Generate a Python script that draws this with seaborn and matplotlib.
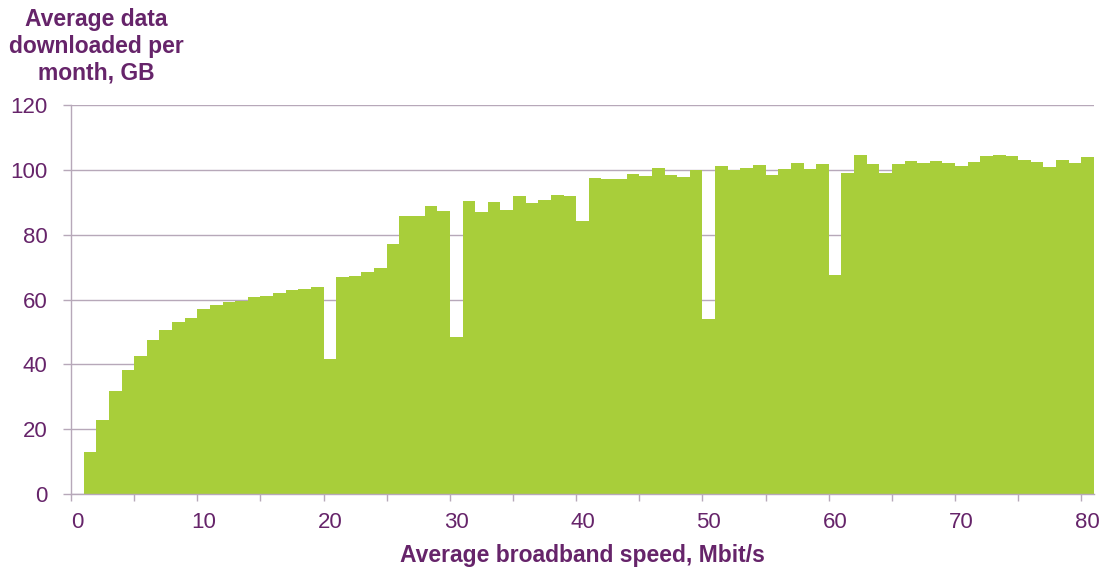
import numpy as np
import pandas as pd
import seaborn as sns
import matplotlib.pyplot as plt

# Average broadband speed (Mbit/s) and average data downloaded per month (GB)
speeds = list(range(1, 81))
downloads = [
    12.9, 22.8, 31.8, 38.3, 42.7, 47.5, 50.5, 53.0, 54.2, 57.2,
    58.3, 59.1, 59.5, 60.7, 61.1, 61.9, 62.9, 63.1, 63.8, 41.6,
    66.8, 67.2, 68.6, 69.8, 77.0, 85.9, 85.8, 88.8, 87.3, 48.3,
    90.3, 87.0, 90.1, 87.6, 91.8, 89.8, 90.6, 92.1, 91.8, 84.2,
    97.5, 97.3, 97.1, 98.7, 98.1, 100.6, 98.3, 97.8, 99.9, 54.0,
    101.1, 99.9, 100.5, 101.4, 98.5, 100.4, 102.0, 100.4, 101.7, 67.6,
    99.1, 104.6, 101.7, 99.1, 101.7, 102.8, 102.0, 102.7, 102.0, 101.2,
    102.5, 104.4, 104.7, 104.2, 103.0, 102.4, 100.8, 102.9, 102.0, 104.0,
]
x_labels = list(range(0, 81, 10))
y_ticks = list(range(0, 121, 20))

df = pd.DataFrame({'speed': speeds, 'gb': downloads})

purple = '#66246A'
green = '#A8CE3A'
grid = '#B7A8B9'

sns.set_theme(style='white')
plt.rcParams['font.family'] = ['Liberation Sans', 'DejaVu Sans']

fig = plt.figure(figsize=(11.03, 5.69), dpi=100)
ax = fig.add_axes([71 / 1103, 1 - 494 / 569, (1094 - 71) / 1103, (494 - 105) / 569])

sns.barplot(data=df, x='speed', y='gb', native_scale=True, width=1,
            color=green, saturation=1, linewidth=0, ax=ax)

ax.set_xlim(-0.5, 80.5)
ax.set_ylim(0, 120)

# labels centred on categories, tick marks between groups of five
ax.set_xticks(x_labels)
ax.set_xticks(np.arange(-0.5, 80, 5), minor=True)
ax.tick_params(axis='x', which='major', length=0, pad=13, labelsize=16, labelcolor=purple)
ax.tick_params(axis='x', which='minor', length=5, width=1, color=grid, direction='out', bottom=True)

ax.set_yticks(y_ticks)
ax.tick_params(axis='y', which='major', length=6, width=1, color=grid, direction='out',
               left=True, pad=11, labelsize=16, labelcolor=purple)

ax.grid(axis='y', color=grid, linewidth=1)
ax.set_axisbelow(True)
for side in ['top', 'right']:
    ax.spines[side].set_visible(False)
for side in ['left', 'bottom']:
    ax.spines[side].set_color(grid)
    ax.spines[side].set_linewidth(1)
    ax.spines[side].set_zorder(3)

ax.set_xlabel('Average broadband speed, Mbit/s', fontsize=16.5, fontweight='bold',
              color=purple, labelpad=8)
ax.set_ylabel('')

fig.text(96 / 1103, 1 - 8 / 569, 'Average data\ndownloaded per\nmonth, GB',
         ha='center', va='top', multialignment='center', fontsize=16.5,
         fontweight='bold', color=purple, linespacing=1.22)

fig.savefig('out.png', dpi=100)
